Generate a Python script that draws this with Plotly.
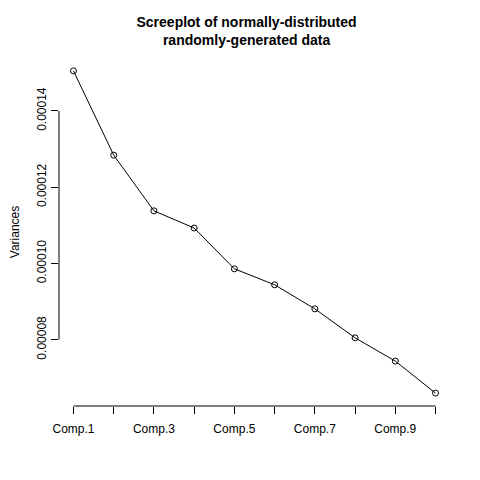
import plotly.graph_objects as go

# screeplot (type="lines") de datos aleatorios normales
componentes = ["Comp.1", "Comp.2", "Comp.3", "Comp.4", "Comp.5",
               "Comp.6", "Comp.7", "Comp.8", "Comp.9", "Comp.10"]
varianzas = [0.0001505, 0.0001284, 0.0001138, 0.0001093, 0.0000986,
             0.0000944, 0.0000881, 0.0000805, 0.0000744, 0.0000660]

y_ticks = [0.00008, 0.00010, 0.00012, 0.00014]
y_ticktext = ["0.00008", "0.00010", "0.00012", "0.00014"]
x_ticktext = ["Comp.1", "", "Comp.3", "", "Comp.5", "", "Comp.7", "", "Comp.9", ""]

pos = list(range(1, len(componentes) + 1))

# rango con el 4% de margen, como en R
span_y = max(varianzas) - min(varianzas)
rango_y = [min(varianzas) - 0.04 * span_y, max(varianzas) + 0.04 * span_y]
span_x = pos[-1] - pos[0]
rango_x = [pos[0] - 0.04 * span_x, pos[-1] + 0.04 * span_x]

fig = go.Figure()
fig.add_trace(go.Scatter(
    x=pos, y=varianzas, mode="lines+markers",
    line=dict(color="black", width=1),
    marker=dict(symbol="circle-open", size=6, color="black", line=dict(width=1)),
    hoverinfo="skip", showlegend=False,
))

# ejes "a lo R": la línea solo cubre los ticks
fig.add_shape(type="line", xref="x", yref="paper", x0=pos[0], x1=pos[-1], y0=0, y1=0,
              line=dict(color="black", width=1))
fig.add_shape(type="line", xref="paper", yref="y", x0=0, x1=0, y0=y_ticks[0], y1=y_ticks[-1],
              line=dict(color="black", width=1))

# el body del html mete 8px de margen, se compensa aqui
fig.update_layout(
    width=480, height=480,
    margin=dict(l=51, r=38, t=50, b=82),
    paper_bgcolor="white", plot_bgcolor="white",
    font=dict(family="Liberation Sans, Arial", size=12, color="black"),
    title=dict(text="<b>Screeplot of normally-distributed<br>randomly-generated data</b>",
               x=0.497, xanchor="center", y=0.961, yanchor="top",
               font=dict(size=14)),
    xaxis=dict(range=rango_x, tickvals=pos, ticktext=x_ticktext,
               ticks="outside", ticklen=7, tickcolor="black", tickangle=0,
               ticklabelstandoff=5,
               showgrid=False, zeroline=False, showline=False),
    yaxis=dict(range=rango_y, tickvals=y_ticks, ticktext=y_ticktext,
               ticks="outside", ticklen=7, tickcolor="black", tickangle=-90,
               showgrid=False, zeroline=False, showline=False, automargin=False,
               title=dict(text="Variances", standoff=16, font=dict(size=12))),
)

fig.write_html("out.html")
